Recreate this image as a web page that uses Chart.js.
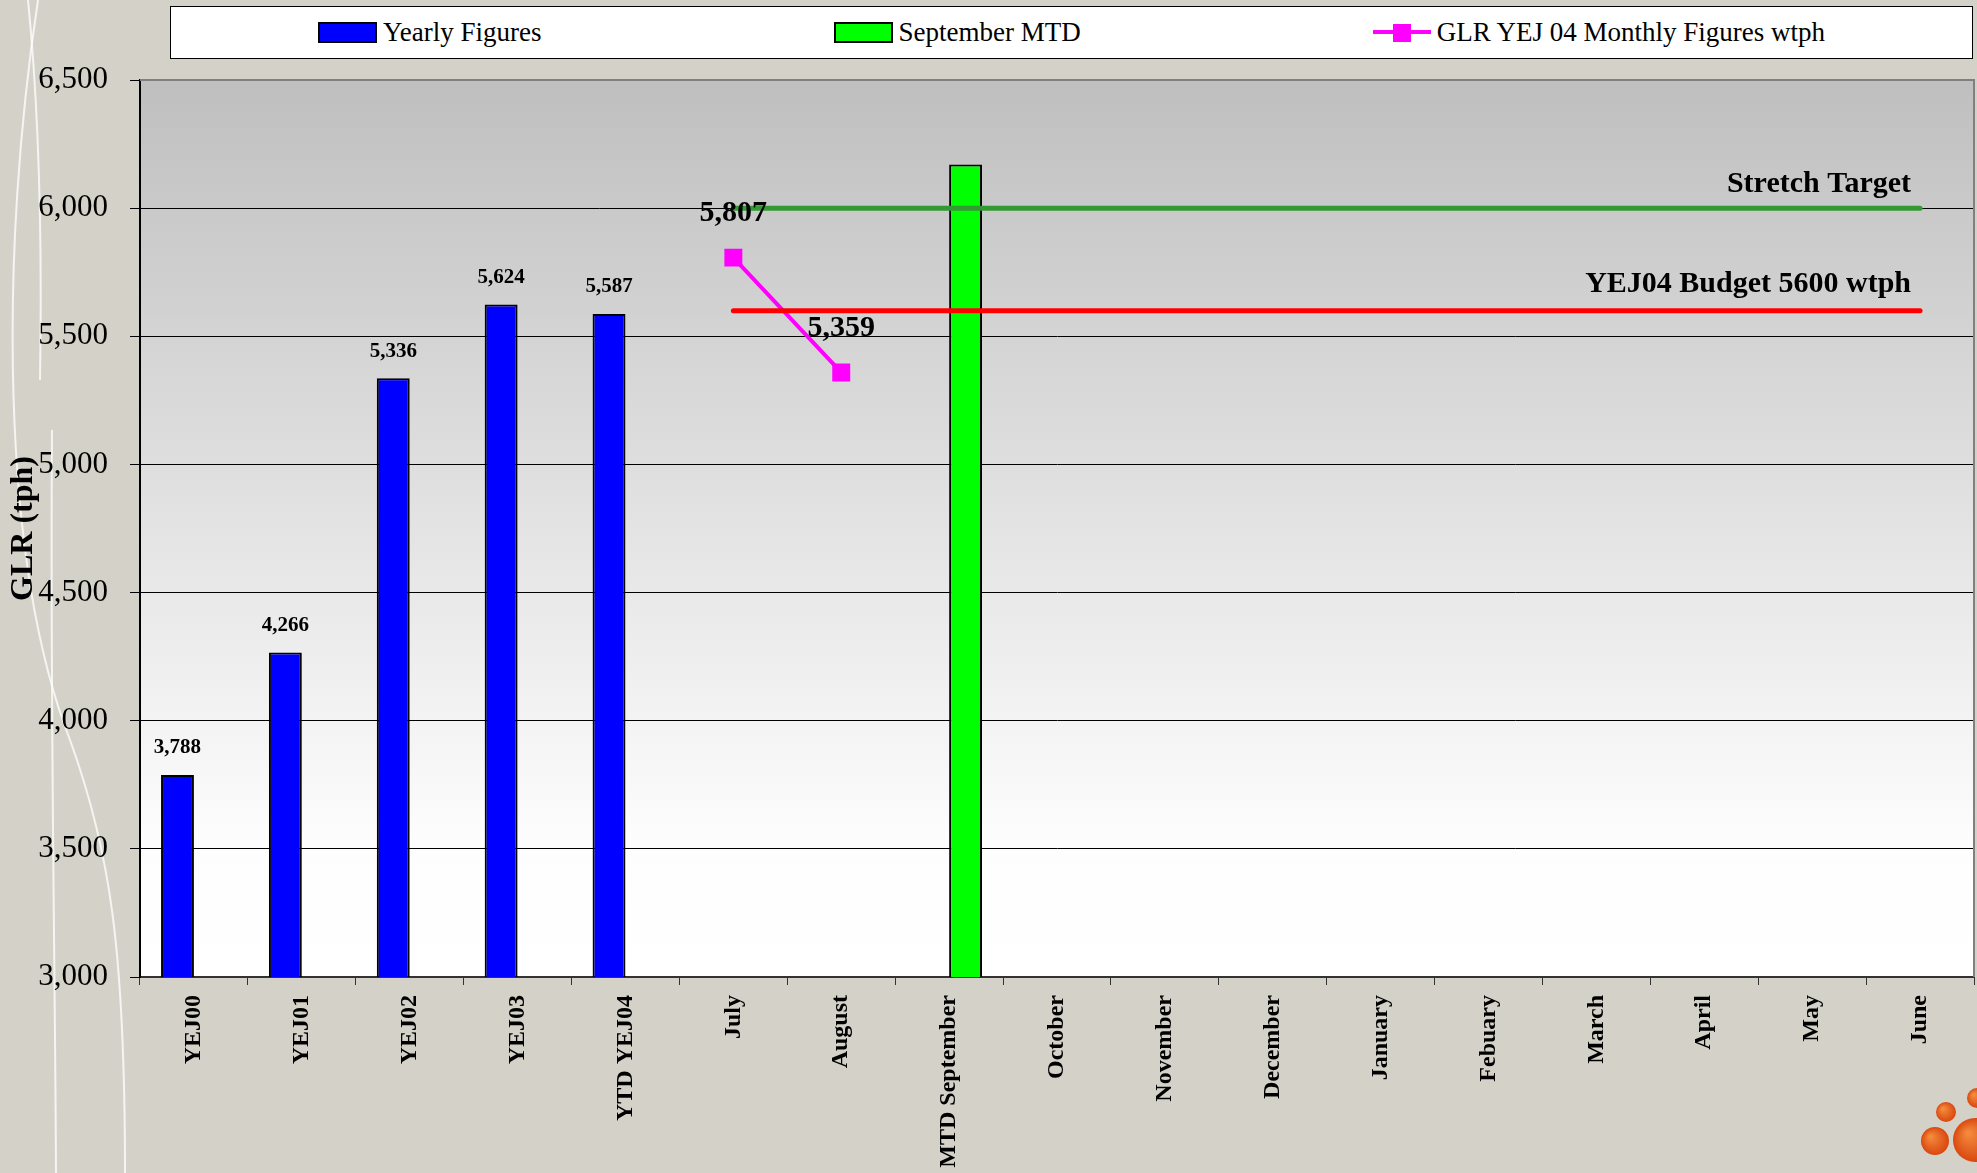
<!DOCTYPE html>
<html>
<head>
<meta charset="utf-8">
<script src="https://cdn.jsdelivr.net/npm/chart.js@4/dist/chart.umd.min.js"></script>
<style>
  html, body { margin: 0; padding: 0; background: #d4d2c8; overflow: hidden; }
  #wrap { position: relative; width: 1977px; height: 1173px; }
  #legend {
    position: absolute; left: 170px; top: 6px; width: 1801px; height: 51px;
    background: #fff; border: 1px solid #000;
    display: flex; align-items: center; justify-content: center; gap: 292px;
    font-family: "Liberation Serif", "Times New Roman", serif; font-size: 27px; color: #000;
  }
  .item { display: flex; align-items: center; white-space: nowrap; }
  .sw { width: 55px; height: 17px; border: 2px solid #000; margin-right: 6px; }
  .ln { position: relative; width: 58px; height: 21px; margin-right: 6px; }
  .ln i { position: absolute; left: 0; right: 0; top: 8px; height: 4px; }
  .ln b { position: absolute; left: 20px; top: 2px; width: 18px; height: 18px; }
</style>
</head>
<body>
<div id="wrap">
  <canvas id="chart" width="1977" height="1173"></canvas>
  <div id="legend"></div>
</div>
<script>
// categories along the x axis
const categories = ['YEJ00', 'YEJ01', 'YEJ02', 'YEJ03', 'YTD YEJ04', 'July', 'August', 'MTD September',
  'October', 'November', 'December', 'January', 'Febuary', 'March', 'April', 'May', 'June'];

// series
const yearlyFigures = [3788, 4266, 5336, 5624, 5587, null, null, null, null, null, null, null, null, null, null, null, null];
const septemberMTD = [null, null, null, null, null, null, null, 6170, null, null, null, null, null, null, null, null, null];
const monthlyFigures = [null, null, null, null, null, 5807, 5359, null, null, null, null, null, null, null, null, null, null];
const stretchTarget = [null, null, null, null, null, 6000, 6000, 6000, 6000, 6000, 6000, 6000, 6000, 6000, 6000, 6000, 6000];
const budget = [null, null, null, null, null, 5600, 5600, 5600, 5600, 5600, 5600, 5600, 5600, 5600, 5600, 5600, 5600];

// y axis ticks
const yMin = 3000;
const yMax = 6500;
const yStep = 500;

const SERIF = '"Liberation Serif", "Times New Roman", serif';
const fmt = v => v.toLocaleString('en-US');

// page background, decoration and plot gradient
const backdrop = {
  id: 'backdrop',
  beforeDraw(chart) {
    const { ctx, chartArea: a } = chart;
    ctx.save();
    ctx.fillStyle = '#d4d2c8';
    ctx.fillRect(0, 0, chart.width, chart.height);

    ctx.strokeStyle = 'rgba(255,255,255,0.75)';
    ctx.lineWidth = 2;
    ctx.beginPath();
    ctx.moveTo(38, 0);
    ctx.bezierCurveTo(0, 250, 0, 560, 70, 740);
    ctx.bezierCurveTo(110, 850, 125, 950, 125, 1173);
    ctx.stroke();
    ctx.beginPath();
    ctx.moveTo(52, 430);
    ctx.bezierCurveTo(50, 700, 55, 950, 56, 1173);
    ctx.stroke();
    ctx.beginPath();
    ctx.moveTo(28, 0);
    ctx.bezierCurveTo(40, 120, 42, 260, 40, 380);
    ctx.stroke();

    const logo = [[1946, 1112, 10], [1935, 1141, 14], [1975, 1140, 22], [1977, 1098, 10]];
    logo.forEach(([x, y, r]) => {
      const g = ctx.createRadialGradient(x - r / 3, y - r / 3, 1, x, y, r);
      g.addColorStop(0, '#f48a3c');
      g.addColorStop(1, '#d9480f');
      ctx.fillStyle = g;
      ctx.beginPath();
      ctx.arc(x, y, r, 0, Math.PI * 2);
      ctx.fill();
    });

    const grad = ctx.createLinearGradient(0, a.top, 0, a.bottom);
    grad.addColorStop(0, '#bfbfbf');
    grad.addColorStop(0.85, '#fdfdfd');
    grad.addColorStop(1, '#ffffff');
    ctx.fillStyle = grad;
    ctx.fillRect(a.left, a.top, a.right - a.left, a.bottom - a.top);
    ctx.restore();
  },
  afterDraw(chart) {
    const { ctx, chartArea: a } = chart;
    ctx.save();
    ctx.strokeStyle = '#808080';
    ctx.lineWidth = 2;
    ctx.beginPath();
    ctx.moveTo(a.left, a.top);
    ctx.lineTo(a.right, a.top);
    ctx.lineTo(a.right, a.bottom);
    ctx.stroke();
    ctx.restore();
  }
};

// value labels and reference line captions
const labels = {
  id: 'labels',
  afterDatasetsDraw(chart) {
    const { ctx } = chart;
    ctx.save();
    ctx.fillStyle = '#000';
    ctx.textAlign = 'center';
    ctx.textBaseline = 'middle';

    ctx.font = 'bold 21px ' + SERIF;
    chart.getDatasetMeta(0).data.forEach((bar, i) => {
      if (yearlyFigures[i] == null) return;
      ctx.fillText(fmt(yearlyFigures[i]), bar.x, bar.y - 27);
    });

    ctx.font = 'bold 30px ' + SERIF;
    chart.getDatasetMeta(2).data.forEach((pt, i) => {
      if (monthlyFigures[i] == null) return;
      ctx.fillText(fmt(monthlyFigures[i]), pt.x, pt.y - 44);
    });

    ctx.textAlign = 'right';
    ctx.textBaseline = 'alphabetic';
    [[3, 'Stretch Target', 16], [4, 'YEJ04 Budget 5600 wtph', 19]].forEach(([idx, txt, off]) => {
      const pts = chart.getDatasetMeta(idx).data;
      const last = pts[pts.length - 1];
      ctx.fillText(txt, last.x - 9, last.y - off);
    });
    ctx.restore();
  }
};

const datasets = [
  {
    type: 'bar', label: 'Yearly Figures', data: yearlyFigures,
    backgroundColor: '#0000ff', borderColor: '#000', borderWidth: 2, order: 5
  },
  {
    type: 'bar', label: 'September MTD', data: septemberMTD,
    backgroundColor: '#00ff00', borderColor: '#000', borderWidth: 2, order: 5
  },
  {
    type: 'line', label: 'GLR YEJ 04 Monthly Figures wtph', data: monthlyFigures,
    borderColor: '#ff00ff', backgroundColor: '#ff00ff', borderWidth: 4,
    pointStyle: 'rect', pointRadius: 12.7, pointBorderWidth: 0, order: 3
  },
  {
    type: 'line', label: 'Stretch Target', data: stretchTarget,
    borderColor: '#339933', borderWidth: 5, borderCapStyle: 'round', pointRadius: 0, order: 2
  },
  {
    type: 'line', label: 'YEJ04 Budget 5600 wtph', data: budget,
    borderColor: '#ff0000', borderWidth: 5, borderCapStyle: 'round', pointRadius: 0, order: 1
  }
];

new Chart(document.getElementById('chart').getContext('2d'), {
  type: 'bar',
  data: { labels: categories, datasets: datasets },
  plugins: [backdrop, labels],
  options: {
    responsive: false,
    animation: false,
    devicePixelRatio: 1,
    layout: { autoPadding: false, padding: { top: 80, right: 3, left: 0, bottom: 0 } },
    categoryPercentage: 0.61,
    barPercentage: 1.0,
    plugins: { legend: { display: false }, tooltip: { enabled: false } },
    scales: {
      x: {
        afterFit(scale) { scale.height = 196; },
        grid: { drawOnChartArea: false, drawTicks: true, tickLength: 8, color: '#333', offset: true },
        border: { color: '#333', width: 2 },
        ticks: {
          autoSkip: false, minRotation: 90, maxRotation: 90, padding: 10,
          color: '#000', font: { family: SERIF, size: 24, weight: 'bold' }
        }
      },
      y: {
        min: yMin, max: yMax,
        afterFit(scale) { scale.width = 140; },
        grid: { color: '#000', lineWidth: 1, tickLength: 10 },
        border: { color: '#000', width: 2 },
        ticks: {
          stepSize: yStep, padding: 22, color: '#000',
          font: { family: SERIF, size: 31 },
          callback: v => fmt(v)
        },
        title: {
          display: true, text: 'GLR (tph)', color: '#000', padding: { top: 5, bottom: 0 },
          font: { family: SERIF, size: 32, weight: 'bold' }
        }
      }
    }
  }
});

// legend from the first three datasets
const legend = document.getElementById('legend');
datasets.slice(0, 3).forEach(ds => {
  const item = document.createElement('div');
  item.className = 'item';
  if (ds.type === 'bar') {
    item.innerHTML = '<span class="sw" style="background:' + ds.backgroundColor + '"></span>';
  } else {
    item.innerHTML = '<span class="ln"><i style="background:' + ds.borderColor + '"></i><b style="background:' + ds.borderColor + '"></b></span>';
  }
  const t = document.createElement('span');
  t.textContent = ds.label;
  item.appendChild(t);
  legend.appendChild(item);
});
</script>
</body>
</html>
